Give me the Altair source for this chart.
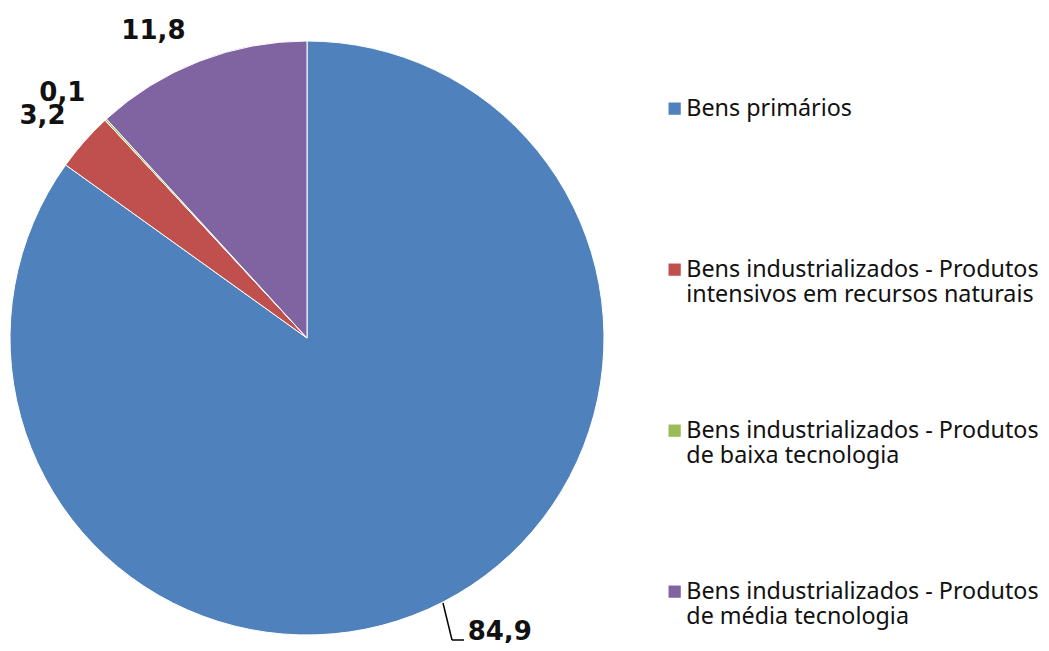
import altair as alt
import pandas as pd

categories = [
    "Bens primários",
    "Bens industrializados - Produtos intensivos em recursos naturais",
    "Bens industrializados - Produtos de baixa tecnologia",
    "Bens industrializados - Produtos de média tecnologia",
]
legend_lines = [
    "Bens primários| ",
    "Bens industrializados - Produtos|intensivos em recursos naturais",
    "Bens industrializados - Produtos|de baixa tecnologia",
    "Bens industrializados - Produtos|de média tecnologia",
]
values = [84.9, 3.2, 0.1, 11.8]
labels = ["84,9", "3,2", "0,1", "11,8"]
colors = ["#4F81BD", "#C0504D", "#9BBB59", "#8064A2"]

df = pd.DataFrame({
    "cat": categories,
    "legend": legend_lines,
    "value": values,
    "label": labels,
    "order": list(range(len(values))),
})

CX, CY, R = 299, 330, 297
FONT = "Noto Sans"

pie = alt.Chart(df).mark_arc(radius=R, stroke="white", strokeWidth=1, x=CX, y=CY).encode(
    theta=alt.Theta("value:Q", stack=True),
    order=alt.Order("order:Q"),
    color=alt.Color(
        "legend:N",
        sort=legend_lines,
        scale=alt.Scale(domain=legend_lines, range=colors),
        legend=alt.Legend(
            title=None,
            orient="none",
            legendX=655,
            legendY=89,
            padding=0,
            symbolType="square",
            symbolSize=150,
            symbolStrokeWidth=0,
            labelFontSize=23.3,
            labelFont=FONT,
            labelColor="#111111",
            labelLimit=0,
            labelExpr="split(datum.label, '|')",
            rowPadding=111,
            labelOffset=0,
        ),
    ),
)

stacked = alt.Chart(df).transform_window(
    cum="sum(value)", sort=[alt.SortField("order")]
).transform_calculate(mid="datum.cum - datum.value / 2")

offsets = {"84,9": (42, 0), "3,2": (-17, -4), "0,1": (-21, -2), "11,8": (-34, 1)}
text_layers = []
for lab, (ddx, ddy) in offsets.items():
    text_layers.append(
        stacked.mark_text(
            radius=330, x=CX, y=CY, dx=ddx, dy=ddy, baseline="middle", align="center",
            fontSize=26, fontWeight="bold", font="DejaVu Sans", color="#111111",
        ).encode(
            theta=alt.Theta("mid:Q", stack=None, scale=alt.Scale(domain=[0, 100])),
            text="label:N",
        ).transform_filter(alt.datum.label == lab)
    )

leader1 = alt.Chart(df).mark_rule(color="black", strokeWidth=1.5).encode(
    x=alt.value(435), y=alt.value(595), x2=alt.value(444), y2=alt.value(632)
).transform_filter(alt.datum.order == 0)
leader2 = alt.Chart(df).mark_rule(color="black", strokeWidth=1.5).encode(
    x=alt.value(444), y=alt.value(632), x2=alt.value(456), y2=alt.value(632)
).transform_filter(alt.datum.order == 0)

chart = alt.layer(pie, *text_layers, leader1, leader2).resolve_scale(
    theta="independent"
).properties(
    width=1033, height=635,
    autosize=alt.AutoSizeParams(type="none"),
    padding=0,
).configure_view(stroke=None)

chart.save("out.html", embed_options={"renderer": "svg", "actions": False})
